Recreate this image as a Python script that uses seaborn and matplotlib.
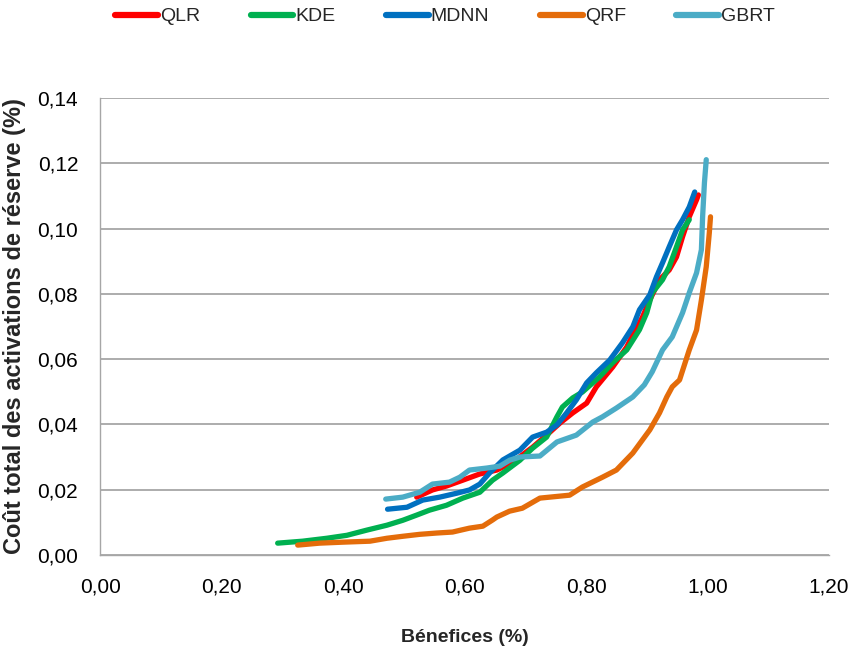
import numpy as np
import pandas as pd
import matplotlib as mpl
from matplotlib import pyplot as plt
from matplotlib.ticker import FuncFormatter
import seaborn as sb

# Data (x = bénéfices %, y = coût %)
qlr_x = [0.521, 0.547, 0.570, 0.597, 0.625, 0.653, 0.679, 0.712, 0.735, 0.757, 0.778,
         0.801, 0.817, 0.844, 0.867, 0.877, 0.893, 0.905, 0.921, 0.937, 0.949, 0.959,
         0.970, 0.982, 0.985]
qlr_y = [0.0177, 0.0199, 0.0211, 0.0229, 0.0248, 0.0260, 0.0284, 0.0330, 0.0367, 0.0404,
         0.0435, 0.0465, 0.0515, 0.0576, 0.0637, 0.0674, 0.0729, 0.0781, 0.0843, 0.0873,
         0.0913, 0.0975, 0.1036, 0.1088, 0.1103]

kde_x = [0.292, 0.333, 0.373, 0.406, 0.439, 0.472, 0.498, 0.521, 0.542, 0.570, 0.597,
         0.625, 0.646, 0.663, 0.691, 0.712, 0.735, 0.752, 0.761, 0.778, 0.794, 0.822,
         0.844, 0.867, 0.888, 0.900, 0.909, 0.926, 0.937, 0.949, 0.959, 0.970]
kde_y = [0.0036, 0.0042, 0.0051, 0.0060, 0.0076, 0.0091, 0.0106, 0.0122, 0.0137, 0.0152,
         0.0174, 0.0192, 0.0229, 0.0251, 0.0290, 0.0327, 0.0361, 0.0423, 0.0453, 0.0481,
         0.0499, 0.0545, 0.0589, 0.0628, 0.0690, 0.0742, 0.0803, 0.0843, 0.0883, 0.0944,
         0.0996, 0.1027]

mdnn_x = [0.473, 0.505, 0.531, 0.559, 0.587, 0.608, 0.625, 0.641, 0.663, 0.691, 0.712,
          0.735, 0.752, 0.768, 0.784, 0.801, 0.817, 0.839, 0.860, 0.877, 0.888, 0.905,
          0.916, 0.926, 0.937, 0.949, 0.959, 0.970, 0.979]
mdnn_y = [0.0140, 0.0146, 0.0168, 0.0177, 0.0189, 0.0199, 0.0217, 0.0251, 0.0291, 0.0321,
          0.0361, 0.0376, 0.0398, 0.0435, 0.0475, 0.0527, 0.0558, 0.0597, 0.0650, 0.0699,
          0.0751, 0.0797, 0.0852, 0.0895, 0.0944, 0.0996, 0.1027, 0.1066, 0.1112]

qrf_x = [0.325, 0.361, 0.399, 0.444, 0.472, 0.498, 0.526, 0.554, 0.580, 0.608, 0.630,
         0.646, 0.653, 0.674, 0.695, 0.724, 0.773, 0.794, 0.827, 0.850, 0.877, 0.905,
         0.921, 0.933, 0.942, 0.954, 0.970, 0.982, 0.990, 0.998, 1.003, 1.005]
qrf_y = [0.0030, 0.0036, 0.0039, 0.0042, 0.0051, 0.0057, 0.0063, 0.0067, 0.0070, 0.0082,
         0.0088, 0.0107, 0.0116, 0.0134, 0.0143, 0.0174, 0.0183, 0.0208, 0.0238, 0.0260,
         0.0312, 0.0383, 0.0435, 0.0484, 0.0515, 0.0536, 0.0628, 0.0689, 0.0781, 0.0883,
         0.0986, 0.1036]

gbrt_x = [0.470, 0.498, 0.526, 0.547, 0.575, 0.592, 0.608, 0.636, 0.658, 0.674, 0.691,
          0.724, 0.752, 0.784, 0.811, 0.827, 0.850, 0.877, 0.896, 0.909, 0.926, 0.942,
          0.959, 0.970, 0.982, 0.990, 0.992, 0.995, 0.998]
gbrt_y = [0.0171, 0.0177, 0.0192, 0.0217, 0.0223, 0.0238, 0.0260, 0.0266, 0.0272, 0.0290,
          0.0300, 0.0303, 0.0346, 0.0367, 0.0407, 0.0423, 0.0450, 0.0484, 0.0521, 0.0561,
          0.0628, 0.0668, 0.0742, 0.0803, 0.0864, 0.0935, 0.1036, 0.1140, 0.1211]

models = ["QLR", "KDE", "MDNN", "QRF", "GBRT"]
colors = ["#FF0000", "#00B050", "#0070C0", "#E46C0A", "#4BACC6"]

frames = []
for name, xs, ys in zip(models, [qlr_x, kde_x, mdnn_x, qrf_x, gbrt_x],
                        [qlr_y, kde_y, mdnn_y, qrf_y, gbrt_y]):
    frames.append(pd.DataFrame({"x": xs, "y": ys, "model": name}))
df = pd.concat(frames, ignore_index=True)

# Style
sb.set_theme(style="white")
mpl.rcParams.update({
    "font.family": ["Liberation Sans", "DejaVu Sans"],
    "axes.edgecolor": "#A6A6A6",
    "axes.linewidth": 1.0,
})

fig = plt.figure(figsize=(8.51, 6.49), dpi=100)
ax = fig.add_axes([0.118, 0.145, 0.856, 0.704])

sb.lineplot(data=df, x="x", y="y", hue="model", hue_order=models,
            palette=colors, sort=False, estimator=None, linewidth=3.8,
            ax=ax, legend=False)

ax.set_xlim(0, 1.2)
ax.set_ylim(0, 0.14)
ax.set_xticks(np.arange(0, 1.21, 0.2))
ax.set_yticks(np.arange(0, 0.141, 0.02))
comma = FuncFormatter(lambda v, p: f"{v:.2f}".replace(".", ","))
ax.xaxis.set_major_formatter(comma)
ax.yaxis.set_major_formatter(comma)
ax.tick_params(axis="both", labelsize=15, colors="#A6A6A6", labelcolor="black",
               length=7, width=1.0, direction="out", pad=9)
ax.tick_params(axis="y", length=5, pad=11)

ax.grid(True, axis="y", color="#A6A6A6", linewidth=1.3)
ax.set_axisbelow(True)
for s in ["top", "right"]:
    ax.spines[s].set_visible(False)

ax.set_xlabel("Bénefices (%)", fontsize=14, fontweight="bold", labelpad=24)
ax.set_ylabel("Coût total des activations de réserve (%)", fontsize=17,
              fontweight="bold", labelpad=8)

handles = [mpl.lines.Line2D([], [], color=c, linewidth=4.5, solid_capstyle="round")
           for c in colors]
fig.legend(handles, models, loc="upper center", bbox_to_anchor=(0.523, 1.015), ncol=5,
           frameon=False, fontsize=14, handlelength=2.2, handletextpad=0.1,
           columnspacing=2.6)

plt.savefig("out.png", dpi=100)
